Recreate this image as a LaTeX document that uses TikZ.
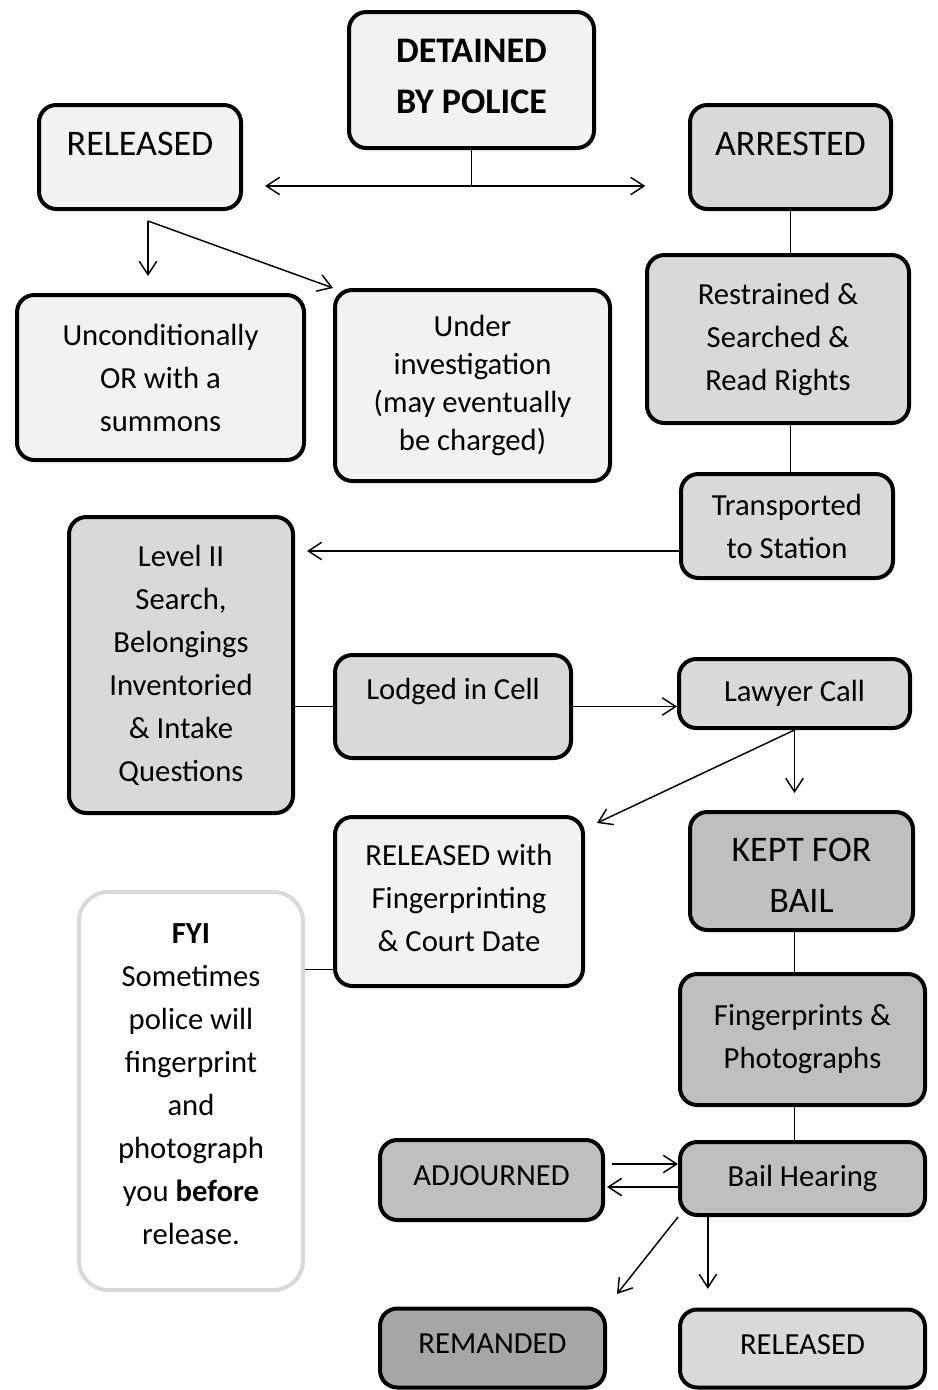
\documentclass[tikz,border=0pt]{standalone}
\usepackage{fontspec}
\setmainfont{Carlito}
\usepackage{tikz}
\usetikzlibrary{arrows.meta}

\definecolor{boxlight}{HTML}{F2F2F2}
\definecolor{boxmid}{HTML}{D9D9D9}
\definecolor{boxdark}{HTML}{BFBFBF}
\definecolor{boxdarker}{HTML}{A6A6A6}
\newcommand{\boxfont}{\fontsize{23}{32.25}\selectfont}
\newcommand{\headfont}{\fontsize{27}{38.25}\selectfont}

\begin{document}
\begin{tikzpicture}
    [
    x=0.75pt, y=-0.75pt,
    box/.style={rectangle,rounded corners=13pt,draw,line width=3pt,align=center,inner sep=2pt,font=\boxfont},
    head/.style={font=\headfont},
    light/.style={fill=boxlight},
    mid/.style={fill=boxmid},
    dark/.style={fill=boxdark},
    darker/.style={fill=boxdarker},
    link/.style={line width=1.1pt},
    arrow/.style={link,-{Straight Barb[length=10pt,width=13pt]}},
    ]
    \useasboundingbox (0,0) rectangle (938,1390);

    \node (det) at (471.5,80) [box, light, head, minimum width=183.75pt, minimum height=102pt, text depth=6pt] {\textbf{DETAINED}\\\textbf{BY POLICE}};
    \node (rel) at (140,157) [box, light, head, minimum width=151.5pt, minimum height=78pt, text height=17.25pt, text depth=20.25pt] {RELEASED};
    \node (arr) at (790.5,157) [box, mid, head, minimum width=150.75pt, minimum height=78pt, text height=17.25pt, text depth=20.25pt] {ARRESTED};
    \node (unc) at (160.5,377.5) [box, light, minimum width=215.25pt, minimum height=123.75pt] {Unconditionally\\OR with a\\summons};
    \node (inv) at (472.5,385.5) [box, light, minimum width=206.25pt, minimum height=143.25pt, font=\fontsize{23}{28.5}\selectfont] {Under\\investigation\\(may eventually\\be charged)};
    \node (rsr) at (778,339) [box, mid, minimum width=196.5pt, minimum height=126pt] {Restrained \&\\Searched \&\\Read Rights};
    \node (trn) at (787,526) [box, mid, minimum width=159pt, minimum height=78pt] {Transported\\to Station};
    \node (lvl) at (181,665) [box, mid, minimum width=168pt, minimum height=222pt] {Level II\\Search,\\Belongings\\Inventoried\\\& Intake\\Questions};
    \node (cell) at (453,706.5) [box, mid, minimum width=177pt, minimum height=77.25pt, text height=15pt, text depth=26.25pt] {Lodged in Cell};
    \node (law) at (794.5,693.5) [box, mid, minimum width=173.25pt, minimum height=51.75pt] {Lawyer Call};
    \node (kept) at (801.5,871) [box, dark, head, minimum width=167.25pt, minimum height=88.5pt, text height=62.5pt] {KEPT FOR\\BAIL};
    \node (relf) at (459,901.5) [box, light, minimum width=186pt, minimum height=126.75pt, text depth=6pt] {RELEASED with\\Fingerprinting\\\& Court Date};
    \node (fyi) at (191,1091) [box, draw=boxmid, fill=white, rounded corners=22pt, minimum width=168pt, minimum height=298.5pt, text depth=10.5pt] {\textbf{FYI}\\Sometimes\\police will\\fingerprint\\and\\photograph\\you \textbf{before}\\release.};
    \node (fp) at (802.5,1039.5) [box, dark, minimum width=183.75pt, minimum height=98.25pt] {Fingerprints \&\\Photographs};
    \node (bail) at (802.5,1178.5) [box, dark, minimum width=183.75pt, minimum height=54.75pt] {Bail Hearing};
    \node (adj) at (491.5,1180) [box, dark, minimum width=167.25pt, minimum height=60pt, text depth=6pt] {ADJOURNED};
    \node (rem) at (492.5,1348) [box, darker, minimum width=168.75pt, minimum height=59.25pt, text depth=6pt] {REMANDED};
    \node (rel2) at (802.5,1348.5) [box, mid, minimum width=183.75pt, minimum height=58.5pt, text depth=6pt] {RELEASED};

    \coordinate (split) at (471.5,186);
    \draw [link] (det) to (split);
    \draw [arrow, shorten >=16.5pt] (split) to (split -| rel.east);
    \draw [arrow, shorten >=32pt] (split) to (split -| arr.west);

    \coordinate (fork) at (148,221);
    \draw [arrow, shorten >=12.75pt] (fork) to (fork |- unc.north);
    \draw [arrow] (fork) to (inv.north west);

    \draw [link] (arr) to (arr.south |- rsr.north);
    \draw [link] (arr.south |- rsr.south) to (arr.south |- trn.north);
    \draw [arrow, shorten >=9pt] ([yshift=-18.75pt]trn.west) to ([yshift=-18.75pt]trn.west -| lvl.east);
    \draw [link] (cell.west -| lvl.east) to (cell.west);
    \draw [arrow] (cell.east) to (cell.east -| law.west);
    \draw [arrow, shorten >=12.75pt] (law.south) to (law.south |- kept.north);
    \draw [arrow] (law.south) to ([xshift=9pt,yshift=-6pt]relf.north east);
    \draw [link] ([yshift=-51pt]relf.west -| fyi.east) to ([yshift=-51pt]relf.west);
    \draw [link] (kept.south -| law.south) to (fp.north -| law.south);
    \draw [link] (fp.south -| law.south) to (bail.north -| law.south);
    \draw [arrow, shorten <=5pt] ([yshift=12pt]adj.east) to ([yshift=12pt]adj.east -| bail.west);
    \draw [arrow, shorten >=1.5pt] ([yshift=-5.25pt]adj.east -| bail.west) to ([yshift=-5.25pt]adj.east);
    \draw [arrow, shorten >=12pt] (bail.south west) to (rem.north east);
    \draw [arrow, shorten >=14pt] ([xshift=-71pt]bail.south) to ([xshift=-71pt]bail.south |- rel2.north);
\end{tikzpicture}
\end{document}
